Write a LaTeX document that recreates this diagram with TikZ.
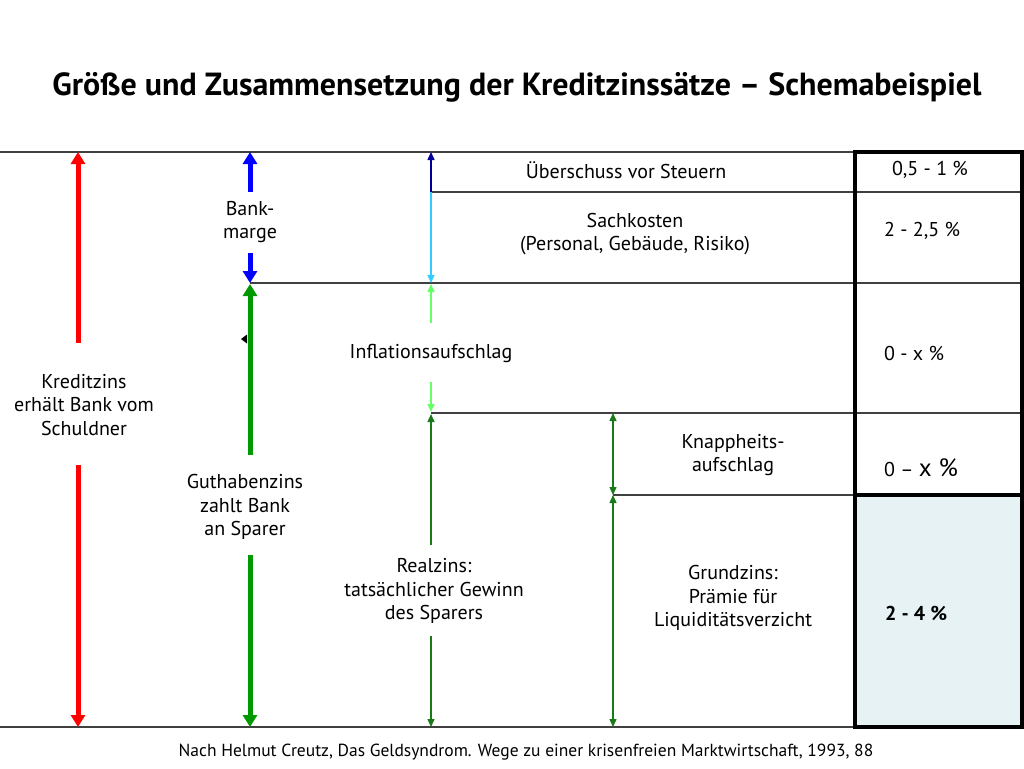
\documentclass[tikz,border=0pt]{standalone}
\usepackage{fontspec}
\setmainfont{PT Sans}
\usetikzlibrary{arrows.meta}
\definecolor{dblue}{HTML}{000099}
\definecolor{lblue}{HTML}{33CCFF}
\definecolor{lgreen}{HTML}{66FF66}
\definecolor{dgreen}{HTML}{1A7A1A}
\definecolor{mgreen}{HTML}{009900}
\definecolor{boxblue}{HTML}{E6F2F4}
\definecolor{gline}{HTML}{404040}
\begin{document}
\begin{tikzpicture}[x=1pt,y=-1pt,
  lbl/.style={align=center,font=\fontsize{20}{23.5}\selectfont,inner sep=0pt},
  val/.style={anchor=west,font=\fontsize{20}{22}\selectfont,inner sep=0pt},
  rule/.style={draw=gline,line width=1.3pt},
  frame/.style={draw=black,line width=4pt},
  fat/.style={line width=5pt,-{Triangle[width=14pt,length=12pt]}},
  slim/.style={line width=1.4pt,-{Triangle[width=7pt,length=8pt]}},
  slimboth/.style={line width=1.4pt,{Triangle[width=7pt,length=8pt]}-{Triangle[width=7pt,length=8pt]}},
]
\useasboundingbox (0,0) rectangle (1024,768);

% key coordinates
\coordinate (L0) at (0,152);   \coordinate (Lbox) at (855,152);
\coordinate (B0) at (0,727);   \coordinate (Bbox) at (855,727);
\coordinate (M1a) at (431,192); \coordinate (M1b) at (1022,192);
\coordinate (M2a) at (250,283); \coordinate (M2b) at (1022,283);
\coordinate (M3a) at (431,413); \coordinate (M3b) at (1022,413);
\coordinate (M4a) at (613,495); \coordinate (M4b) at (855,495);

% title and footer
\node[font=\fontsize{32}{36}\selectfont\bfseries] (title) at (517,87) {Größe und Zusammensetzung der Kreditzinssätze – Schemabeispiel};
\node[font=\fontsize{17.5}{20}\selectfont] (foot) at (526,752) {Nach Helmut Creutz, Das Geldsyndrom. Wege zu einer krisenfreien Marktwirtschaft, 1993, 88};

% box
\fill[boxblue] (855,495) rectangle (1022,727);
\draw[rule] (L0) -- (Lbox);
\draw[rule] (B0) -- (Bbox);
\draw[rule] (M1a) -- (M1b);
\draw[rule] (M2a) -- (M2b);
\draw[rule] (M3a) -- (M3b);
\draw[rule] (M4a) -- (M4b);
\draw[frame] (855,152) rectangle (1022,727);
\draw[frame] (855,495) -- (1022,495);

% labels
\node[lbl] (kredit) at (84,405) {Kreditzins\\erhält Bank vom\\Schuldner};
\node[lbl] (bank) at (250,222) {Bank-\\marge};
\node[lbl] (guthaben) at (245,507) {Guthabenzins\\zahlt Bank\\an Sparer};
\node[lbl] (infl) at (431,353) {Inflationsaufschlag};
\node[lbl] (real) at (434,591) {Realzins:\\tatsächlicher Gewinn\\des Sparers};
\node[lbl] (ueber) at (626,170) {Überschuss vor Steuern};
\node[lbl] (sach) at (635,234) {Sachkosten\\(Personal, Gebäude, Risiko)};
\node[lbl] (knapp) at (733,455) {Knappheits-\\aufschlag};
\node[lbl] (grund) at (733,598) {Grundzins:\\Prämie für\\Liquiditätsverzicht};

% values
\node[lbl] (v1) at (930,170) {0,5 - 1 \%};
\node[val] (v2) at (884,231) {2 - 2,5 \%};
\node[val] (v3) at (884,353) {0 - x \%};
\node[val] (v4) at (884,468) {0 – {\fontsize{25}{26}\selectfont x \%}};
\node[val,font=\fontsize{20}{22}\selectfont\bfseries] (v5) at (885,613) {2 - 4 \%};

% arrow end coordinates
\coordinate (r1) at (78,343);  \coordinate (r1t) at (78,152);
\coordinate (r2) at (78,465);  \coordinate (r2t) at (78,727);
\coordinate (b1) at (250,192); \coordinate (b1t) at (250,152);
\coordinate (b2) at (250,253); \coordinate (b2t) at (250,283);
\coordinate (g1) at (250,455); \coordinate (g1t) at (250,284);
\coordinate (g2) at (250,555); \coordinate (g2t) at (250,727);
\coordinate (c1t) at (431,152);
\coordinate (c2t) at (431,283);
\coordinate (c3) at (431,323); \coordinate (c3t) at (431,284);
\coordinate (c4) at (431,382); \coordinate (c4t) at (431,412);
\coordinate (c5) at (431,545); \coordinate (c5t) at (431,414);
\coordinate (c6) at (431,636); \coordinate (c6t) at (431,727);
\coordinate (k1) at (613,413); \coordinate (k2) at (613,495); \coordinate (k3) at (613,727);

% thick arrows
\draw[fat,red] (r1) -- (r1t);
\draw[fat,red] (r2) -- (r2t);
\draw[fat,blue] (b1) -- (b1t);
\draw[fat,blue] (b2) -- (b2t);
\draw[fat,mgreen] (g1) -- (g1t);
\draw[fat,mgreen] (g2) -- (g2t);

% thin arrows
\draw[slim,dblue] (M1a) -- (c1t);
\draw[slim,lblue] (M1a) -- (c2t);
\draw[slim,lgreen] (c3) -- (c3t);
\draw[slim,lgreen] (c4) -- (c4t);
\draw[slim,dgreen] (c5) -- (c5t);
\draw[slim,dgreen] (c6) -- (c6t);
\draw[slimboth,dgreen] (k1) -- (k2);
\draw[slimboth,dgreen] (k2) -- (k3);

% small stray arrowhead
\fill (241,339) -- (247,334.5) -- (247,343.5) -- cycle;
\end{tikzpicture}
\end{document}
